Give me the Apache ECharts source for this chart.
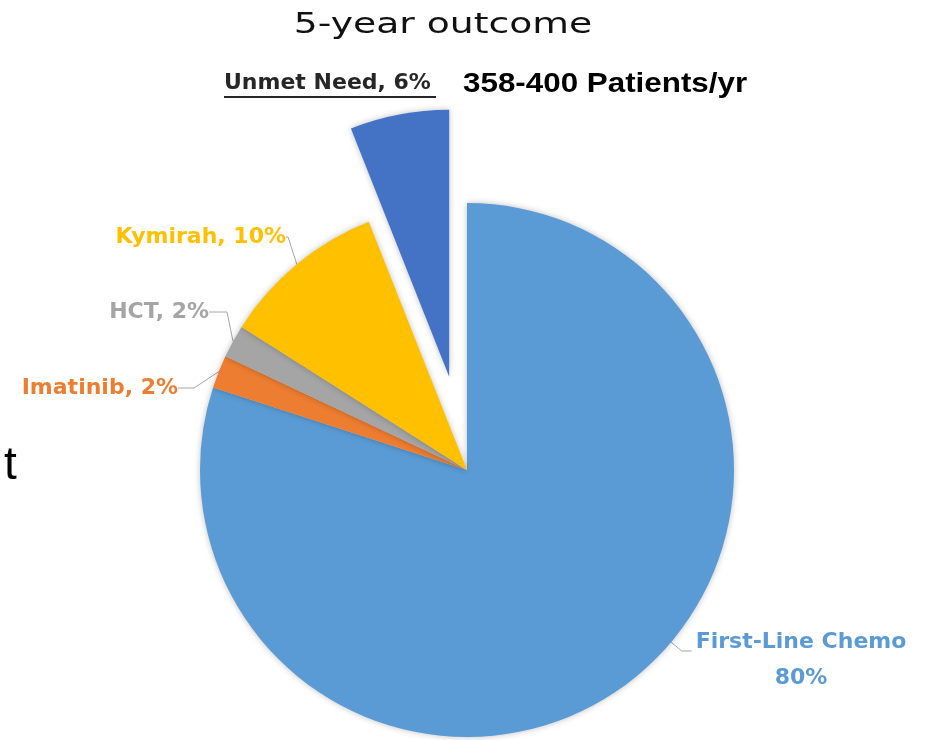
<!DOCTYPE html>
<html>
<head>
<meta charset="utf-8">
<title>5-year outcome</title>
<script src="https://cdn.jsdelivr.net/npm/echarts@6/dist/echarts.min.js"></script>
<style>
  html, body { margin: 0; padding: 0; background: #fff; }
  #chart { width: 926px; height: 740px; }
</style>
</head>
<body>
<div id="chart"></div>
<script>
// data, clockwise from 12 o'clock
const names = ['First-Line Chemo', 'Imatinib', 'HCT', 'Kymirah', 'Unmet Need'];
const shares = [80, 2, 2, 10, 6];
const sliceColors = ['#5B9BD5', '#ED7D31', '#A5A5A5', '#FFC000', '#4472C4'];
const exploded = ['Unmet Need'];
const titleText = '5-year outcome';
const noteText = '358-400 Patients/yr';

// pie geometry + label placement (layout only)
const pieCenter = [467, 470];
const pieRadius = 267;
const labelSpots = [
  { x: 801, y: 660, align: 'center' },
  { x: 178, y: 388, align: 'right' },
  { x: 209, y: 312, align: 'right' },
  { x: 286, y: 237, align: 'right' },
  null
];
const lineLen2 = [10, 16, 18, 2, 0];

const chart = echarts.init(document.getElementById('chart'), null, { renderer: 'canvas' });

const unmetIdx = names.indexOf('Unmet Need');

const seriesData = names.map((n, i) => ({
  name: n,
  value: shares[i],
  selected: exploded.includes(n),
  itemStyle: { color: sliceColors[i] },
  label: { show: i !== unmetIdx, color: sliceColors[i] },
  labelLine: { show: i !== unmetIdx, length2: lineLen2[i] }
}));

// big slice: short leader from the label's left side to the rim
function chemoLine(w) {
  const end = [labelSpots[0].x - w / 2 - 4, labelSpots[0].y - 9];
  const mid = [end[0] - lineLen2[0], end[1]];
  const dx = mid[0] - pieCenter[0], dy = mid[1] - pieCenter[1];
  const d = Math.sqrt(dx * dx + dy * dy);
  const start = [pieCenter[0] + dx / d * pieRadius, pieCenter[1] + dy / d * pieRadius];
  return [start, mid, end];
}

const option = {
  animation: false,
  backgroundColor: '#fff',
  graphic: [
    {
      type: 'text', x: 443, y: 25, scaleX: 1.3,
      style: { text: titleText, fill: '#111', font: '29px "DejaVu Sans"', textAlign: 'center', textVerticalAlign: 'middle' }
    },
    {
      type: 'text', x: 463, y: 84, scaleX: 1.12,
      style: { text: noteText, fill: '#000', font: 'bold 28px "Liberation Sans"', textAlign: 'left', textVerticalAlign: 'middle' }
    },
    {
      type: 'text', x: 224, y: 83,
      style: {
        text: names[unmetIdx] + ', ' + shares[unmetIdx] + '%',
        fill: '#262626', font: 'bold 22px "DejaVu Sans"', textAlign: 'left', textVerticalAlign: 'middle'
      }
    },
    {
      // underline for the Unmet Need label
      type: 'rect', shape: { x: 224, y: 96, width: 212, height: 2 },
      style: { fill: '#262626' }
    },
    {
      type: 'text', x: 4, y: 466,
      style: { text: 't', fill: '#000', font: '46px "Liberation Sans"', textAlign: 'left', textVerticalAlign: 'middle' }
    }
  ],
  series: [
    {
      type: 'pie',
      center: pieCenter,
      radius: [0, pieRadius],
      startAngle: 90,
      clockwise: true,
      selectedMode: 'single',
      selectedOffset: 95,
      avoidLabelOverlap: false,
      itemStyle: {
        borderWidth: 0,
        shadowBlur: 6,
        shadowColor: 'rgba(0,0,0,0.25)'
      },
      label: {
        show: true,
        position: 'outside',
        fontFamily: 'DejaVu Sans',
        fontWeight: 'bold',
        fontSize: 22,
        lineHeight: 36,
        formatter: p => p.name === 'First-Line Chemo' ? p.name + '\n' + p.value + '%' : p.name + ', ' + p.value + '%'
      },
      labelLine: {
        show: true,
        length: 12,
        length2: 10,
        lineStyle: { color: '#A6A6A6', width: 1 }
      },
      labelLayout: p => {
        const spot = labelSpots[p.dataIndex];
        if (!spot) return {};
        const out = Object.assign({ verticalAlign: 'middle' }, spot);
        if (p.dataIndex === 0) out.labelLinePoints = chemoLine(p.labelRect.width);
        return out;
      },
      emphasis: { disabled: true },
      data: seriesData
    }
  ]
};

chart.setOption(option);
</script>
</body>
</html>
